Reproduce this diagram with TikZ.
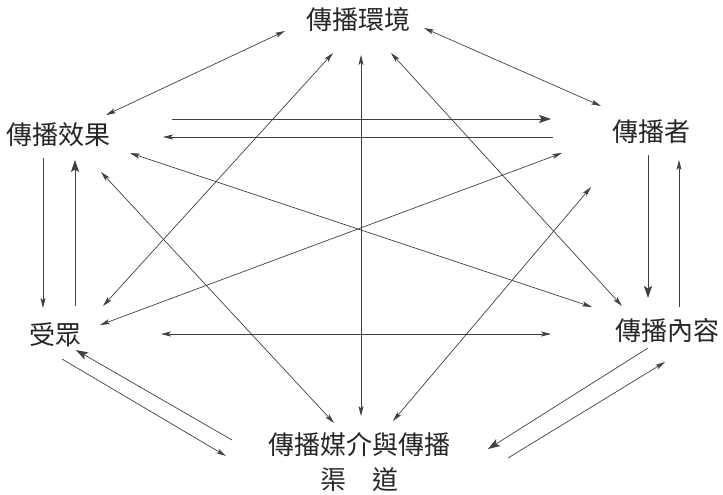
\documentclass[tikz,border=0pt]{standalone}
\usepackage{fontspec}
\setmainfont{Noto Sans CJK TC}
\usetikzlibrary{arrows.meta}
\tikzset{
  lbl/.style={inner sep=0pt, text=black!85, font=\fontsize{26}{35}\selectfont},
  conn/.style={draw=black!75, line width=0.7pt},
  sm/.tip={Stealth[length=10pt,width=5pt,inset=2.5pt]},
  bg/.tip={Stealth[length=12pt,width=8pt,inset=2.5pt]},
}
\begin{document}
\begin{tikzpicture}[x=1pt,y=-1pt]
\useasboundingbox (0,0) rectangle (723,495);
% nodes
\node[lbl] (env) at (358,20) {傳播環境};
\node[lbl] (eff) at (58,135) {傳播效果};
\node[lbl] (snd) at (651,132) {傳播者};
\node[lbl] (aud) at (55,335) {受眾};
\node[lbl] (cnt) at (667,331) {傳播內容};
\node[lbl, align=center] (med) at (359,462) {傳播媒介與傳播\\渠　道};
% endpoints
\coordinate (envEff) at (285,31);   \coordinate (effEnv) at (106,115);
\coordinate (envSnd) at (424,28);   \coordinate (sndEnv) at (601,106);
\coordinate (effSndA) at (172,119); \coordinate (sndEffA) at (551,119);
\coordinate (sndEffB) at (553,137); \coordinate (effSndB) at (163,137);
\coordinate (effAudA) at (43,158);  \coordinate (audEffA) at (43,308);
\coordinate (audEffB) at (75,306);  \coordinate (effAudB) at (75,160);
\coordinate (sndCntA) at (648,155); \coordinate (cntSndA) at (648,298);
\coordinate (cntSndB) at (679,307); \coordinate (sndCntB) at (679,160);
\coordinate (audCnt) at (161,334);  \coordinate (cntAud) at (551,334);
\coordinate (audMedA) at (62,359);  \coordinate (medAudA) at (226,456);
\coordinate (medAudB) at (232,440); \coordinate (audMedB) at (76,350);
\coordinate (cntMedA) at (648,348); \coordinate (medCntA) at (488,449);
\coordinate (medCntB) at (508,458); \coordinate (cntMedB) at (665,362);
\coordinate (effCnt) at (130,153);  \coordinate (cntEff) at (592,307);
\coordinate (audSnd) at (100,325);  \coordinate (sndAud) at (562,153);
\coordinate (effMed) at (101,172);  \coordinate (medEff) at (334,423);
\coordinate (audEnv) at (103,306);  \coordinate (envAud) at (333,53);
\coordinate (envCnt) at (391,53);   \coordinate (cntEnv) at (622,306);
\coordinate (medSnd) at (393,421);  \coordinate (sndMed) at (591,187);
\coordinate (envMed) at (361,55);   \coordinate (medEnv) at (361,416);
% connectors
\draw[conn, sm-sm] (envEff) -- (effEnv);
\draw[conn, sm-sm] (envSnd) -- (sndEnv);
\draw[conn, -bg] (effSndA) -- (sndEffA);
\draw[conn, -sm] (sndEffB) -- (effSndB);
\draw[conn, -sm] (effAudA) -- (audEffA);
\draw[conn, -bg] (audEffB) -- (effAudB);
\draw[conn, -bg] (sndCntA) -- (cntSndA);
\draw[conn, -sm] (cntSndB) -- (sndCntB);
\draw[conn, sm-sm] (audCnt) -- (cntAud);
\draw[conn, -sm] (audMedA) -- (medAudA);
\draw[conn, -bg] (medAudB) -- (audMedB);
\draw[conn, -bg] (cntMedA) -- (medCntA);
\draw[conn, -sm] (medCntB) -- (cntMedB);
\draw[conn, sm-sm] (effCnt) -- (cntEff);
\draw[conn, sm-sm] (audSnd) -- (sndAud);
\draw[conn, sm-sm] (effMed) -- (medEff);
\draw[conn, sm-sm] (audEnv) -- (envAud);
\draw[conn, sm-sm] (envCnt) -- (cntEnv);
\draw[conn, sm-sm] (medSnd) -- (sndMed);
\draw[conn, sm-sm] (envMed) -- (medEnv);
\end{tikzpicture}
\end{document}
